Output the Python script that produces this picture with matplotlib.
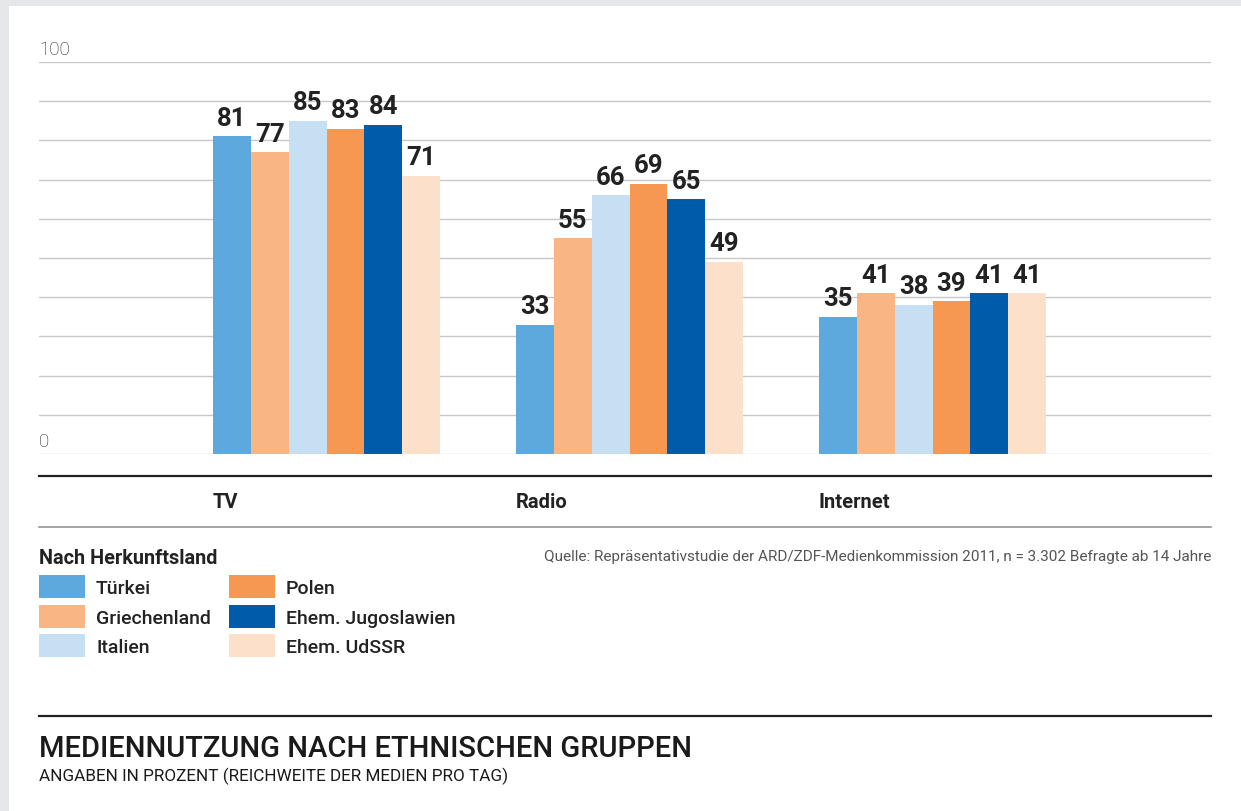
import matplotlib
matplotlib.use("Agg")
import matplotlib.pyplot as plt
from matplotlib.patches import Rectangle
from matplotlib.lines import Line2D
import numpy as np

# data
media = ["TV", "Radio", "Internet"]
countries = ["Türkei", "Griechenland", "Italien", "Polen", "Ehem. Jugoslawien", "Ehem. UdSSR"]
tuerkei = [81, 33, 35]
griechenland = [77, 55, 41]
italien = [85, 66, 38]
polen = [83, 69, 39]
jugoslawien = [84, 65, 41]
udssr = [71, 49, 41]
colors = ["#5DA8DC", "#F9B684", "#C7DFF2", "#F79852", "#005BAA", "#FDE0C9"]

W, H = 1241, 811
plt.rcParams['font.family'] = ['Roboto', 'DejaVu Sans']

fig = plt.figure(figsize=(W / 100, H / 100), dpi=100, facecolor="#E6E7E9")
# white panel
fig.add_artist(Rectangle((9 / W, 0), 1, 1 - 6 / H, transform=fig.transFigure,
                         facecolor="white", edgecolor="none", zorder=0))


def fx(px):
    return px / W


def fy(py):
    return 1 - py / H


ax = fig.add_axes([fx(39), fy(454), (1211 - 39) / W, (454 - 62) / H])
ax.set_facecolor("none")

series = [tuerkei, griechenland, italien, polen, jugoslawien, udssr]
x = np.arange(len(media))
w = 0.125
for j, vals in enumerate(series):
    pos = x + (j - 2.5) * w
    bars = ax.bar(pos, vals, width=w, color=colors[j], zorder=3, linewidth=0)
    for b, v in zip(bars, vals):
        ax.annotate(str(v), (b.get_x() + w / 2, v), xytext=(0, 4), textcoords="offset points",
                    ha="center", va="bottom", fontsize=18.5, fontweight="bold", color="#222222")

ax.set_xlim(-0.949, 2.919)
ax.set_ylim(0, 100)
ax.set_yticks(np.arange(0, 101, 10))
ax.yaxis.grid(True, color="#C8C8C8", linewidth=1.0, zorder=0)
ax.set_yticklabels([])
ax.set_xticks([])
ax.tick_params(left=False, bottom=False)
for s in ax.spines.values():
    s.set_visible(False)

# axis value labels
fig.text(fx(39), fy(55), "100", fontsize=13.5, fontweight="light", color="#222222", va="baseline")
fig.text(fx(39), fy(447), "0", fontsize=13.5, fontweight="light", color="#222222", va="baseline")

# category labels, left aligned to each group
for i, m in enumerate(media):
    ax.text(i - 0.375, -0.138, m, transform=ax.get_xaxis_transform(), ha="left", va="baseline",
            fontsize=14.5, fontweight="bold", color="#222222")

# rules
fig.add_artist(Line2D([fx(39), fx(1211)], [fy(476), fy(476)], color="#222222", lw=1.6))
fig.add_artist(Line2D([fx(39), fx(1211)], [fy(527), fy(527)], color="#8A8A8A", lw=1.1))
fig.add_artist(Line2D([fx(39), fx(1211)], [fy(716), fy(716)], color="#222222", lw=1.6))

# legend
fig.text(fx(39), fy(564), "Nach Herkunftsland", fontsize=14.3, fontweight="bold",
         color="#222222", va="baseline")
col_x = [39, 229]
row_y = [575, 605, 634]
for k, name in enumerate(countries):
    cx = col_x[k // 3]
    ry = row_y[k % 3]
    fig.add_artist(Rectangle((fx(cx), fy(ry + 23)), 46 / W, 23 / H, transform=fig.transFigure,
                             facecolor=colors[k], edgecolor="none"))
    fig.text(fx(cx + 57), fy(ry + 19), name, fontsize=14, fontweight="medium",
             color="#222222", va="baseline")

fig.text(fx(1211), fy(561), "Quelle: Repräsentativstudie der ARD/ZDF-Medienkommission 2011, "
         "n = 3.302 Befragte ab 14 Jahre", fontsize=11, color="#555555", ha="right", va="baseline")

# title
fig.text(fx(39), fy(757), "MEDIENNUTZUNG NACH ETHNISCHEN GRUPPEN", fontsize=21,
         fontweight="medium", color="#1A1A1A", va="baseline")
fig.text(fx(39), fy(781), "ANGABEN IN PROZENT (REICHWEITE DER MEDIEN PRO TAG)", fontsize=12.3,
         color="#1A1A1A", va="baseline")

fig.savefig("out.png", dpi=100, facecolor=fig.get_facecolor())
